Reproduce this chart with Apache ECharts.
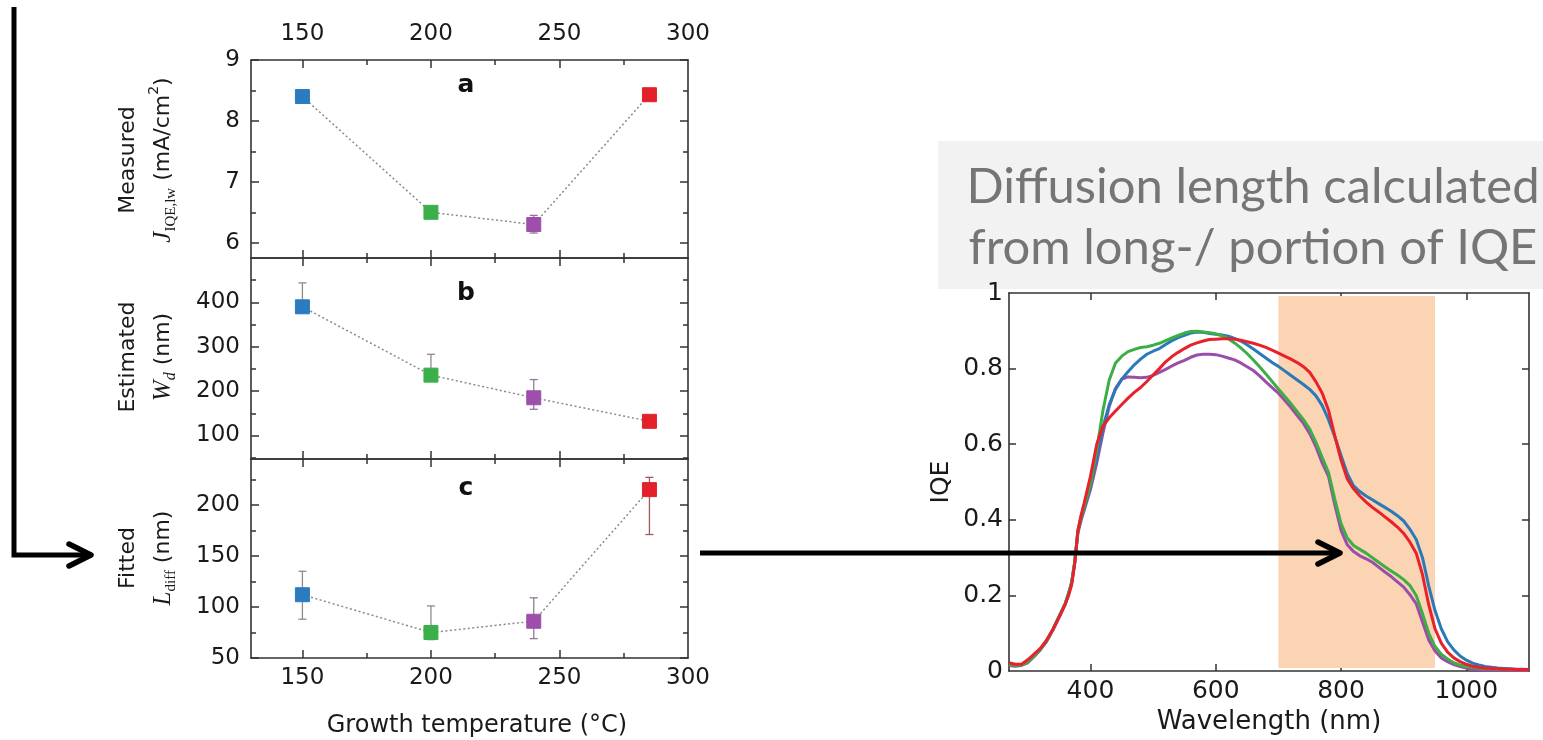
<!DOCTYPE html>
<html><head><meta charset="utf-8">
<script src="https://cdn.jsdelivr.net/npm/echarts@6/dist/echarts.min.js"></script>
<style>html,body{margin:0;padding:0;background:#fff}#c{width:1543px;height:740px}</style>
</head><body><div id="c"></div>
<script>
// ---------------- data ----------------
const temps = [150, 200, 240, 285];
const tempLabels = [150, 200, 250, 300];
const tempMajorTicks = [150, 200, 250];
const tempMinorTicks = [175, 225, 275];

const jIqe     = [8.40, 6.50, 6.30, 8.43];
const jIqeLow  = [8.40, 6.50, 6.16, 8.43];
const jIqeHigh = [8.40, 6.50, 6.45, 8.43];
const jLabels = [6, 7, 8, 9];
const jMinor  = [6.5, 7.5, 8.5];

const wd     = [390, 236, 185, 132];
const wdLow  = [390, 236, 159, 132];
const wdHigh = [444, 283, 226, 132];
const wdLabels = [100, 200, 300, 400];
const wdMinor  = [50, 150, 250, 350, 450];

const ldiff     = [112, 75, 86, 215];
const ldiffLow  = [88, 68, 69, 171];
const ldiffHigh = [135, 101, 109, 227];
const ldLabels = [50, 100, 150, 200];
const ldMinor  = [75, 125, 175, 225];

const wavelength = [270,280,290,300,310,320,330,340,350,360,365,370,375,380,385,390,
  400,410,420,430,440,450,460,470,480,490,500,510,520,530,540,550,560,570,580,590,
  600,610,620,630,640,650,660,670,680,690,700,710,720,730,740,750,760,770,780,790,
  800,810,820,830,840,850,860,870,880,890,900,910,920,930,940,950,960,970,980,990,
  1000,1010,1020,1030,1040,1050,1060,1070,1080,1090,1100];
const iqeBlue = [.020,.016,.017,.025,.040,.058,.080,.110,.145,.180,.205,.235,.290,.370,.405,.430,
  .490,.565,.645,.705,.745,.772,.792,.810,.825,.838,.846,.853,.864,.874,.882,.888,.894,.897,.896,.893,
  .891,.889,.886,.880,.873,.863,.852,.840,.828,.816,.806,.794,.782,.770,.758,.745,.728,.702,.665,.620,
  .570,.522,.490,.475,.463,.453,.443,.433,.423,.411,.397,.375,.348,.300,.225,.160,.112,.078,.056,.040,
  .029,.021,.016,.012,.010,.008,.007,.006,.005,.005,.004];
const iqeGreen = [.018,.015,.016,.024,.040,.058,.080,.110,.145,.180,.205,.235,.290,.372,.408,.435,
  .495,.585,.690,.770,.815,.833,.845,.851,.856,.858,.862,.867,.874,.881,.888,.894,.898,.899,.897,.895,
  .892,.887,.879,.868,.855,.840,.823,.805,.786,.766,.746,.727,.707,.686,.665,.640,.605,.565,.525,.455,
  .390,.352,.332,.322,.312,.300,.288,.276,.265,.254,.242,.226,.200,.152,.100,.065,.045,.032,.022,.016,
  .012,.010,.008,.007,.006,.005,.005,.004,.004,.004,.004];
const iqePurple = [.015,.013,.015,.022,.038,.056,.078,.108,.142,.178,.203,.232,.288,.365,.398,.425,
  .480,.550,.630,.700,.748,.772,.778,.777,.776,.777,.782,.790,.798,.807,.815,.822,.830,.836,.838,.838,
  .837,.833,.828,.823,.815,.805,.795,.781,.765,.750,.735,.716,.697,.676,.655,.628,.593,.550,.515,.440,
  .372,.334,.316,.305,.297,.288,.275,.262,.250,.236,.222,.202,.178,.130,.082,.053,.035,.025,.017,.012,
  .008,.005,.004,.003,.003,.002,.002,.002,.002,.002,.002];
const iqeRed = [.022,.018,.018,.030,.045,.060,.082,.110,.143,.178,.200,.228,.285,.372,.412,.445,
  .515,.600,.648,.670,.688,.705,.722,.737,.750,.766,.783,.800,.818,.832,.843,.853,.862,.868,.873,.877,
  .878,.879,.879,.878,.875,.871,.867,.862,.856,.849,.841,.833,.825,.816,.805,.790,.765,.735,.690,.622,
  .558,.508,.482,.463,.447,.433,.421,.408,.395,.381,.364,.341,.312,.255,.175,.112,.074,.050,.035,.025,
  .018,.013,.010,.008,.007,.006,.005,.005,.004,.004,.004];
const wlLabels = [400, 600, 800, 1000];
const iqeTicks = [0.2, 0.4, 0.6, 0.8];
const iqeLabels = [0, 0.2, 0.4, 0.6, 0.8, 1];
const shadeRange = [700, 950];

// ---------------- styles ----------------
const pointColors = ['#2b7bbf', '#3bb04a', '#9d4fab', '#e3212b'];
const errColors = ['#8c8c8c', '#8c8c8c', '#94789a', '#a05a5e'];
const FONT = 'DejaVu Sans';
const frameColor = '#333';

const chart = echarts.init(document.getElementById('c'), null, {renderer: 'canvas'});

const leftGrids = [
  {left: 251, top: 60, width: 437, height: 198},
  {left: 251, top: 258, width: 437, height: 201},
  {left: 251, top: 459, width: 437, height: 199}
];
const rightGrid = {left: 1009, top: 293, width: 520, height: 379};

function mkAxis(base, opts) {
  return Object.assign({
    type: 'value', splitLine: {show: false},
    axisLine: {show: opts.line, onZero: false, lineStyle: {color: frameColor, width: 1.6}},
    axisTick: {show: true, inside: true, length: opts.len, customValues: opts.ticks,
               lineStyle: {color: frameColor, width: 1.5}},
    axisLabel: opts.labels ? {show: true, customValues: opts.labels, margin: opts.margin || 9,
               fontSize: opts.fs || 23, color: '#1a1a1a', fontFamily: FONT,
               formatter: opts.fmt || (v => String(v))} : {show: false}
  }, base);
}

const xAxes = [], yAxes = [];
const yCfg = [
  {min: 5.75, max: 9, labels: jLabels, major: jLabels, minor: jMinor},
  {min: 47, max: 500, labels: wdLabels, major: wdLabels, minor: wdMinor},
  {min: 50, max: 245, labels: ldLabels, major: ldLabels, minor: ldMinor}
];
for (let g = 0; g < 3; g++) {
  const xb = {gridIndex: g, min: 130, max: 300};
  xAxes.push(mkAxis(Object.assign({position: 'bottom'}, xb), {line: true, len: 8, ticks: tempMajorTicks, labels: g === 2 ? tempLabels : null, margin: 9}));
  xAxes.push(mkAxis(Object.assign({position: 'bottom'}, xb), {line: false, len: 5, ticks: tempMinorTicks}));
  xAxes.push(mkAxis(Object.assign({position: 'top'}, xb), {line: true, len: 8, ticks: tempMajorTicks, labels: g === 0 ? tempLabels : null, margin: 14}));
  xAxes.push(mkAxis(Object.assign({position: 'top'}, xb), {line: false, len: 5, ticks: tempMinorTicks}));
  const c = yCfg[g];
  const yb = {gridIndex: g, min: c.min, max: c.max};
  yAxes.push(mkAxis(Object.assign({position: 'left'}, yb), {line: true, len: 8, ticks: c.major, labels: c.labels, margin: 11}));
  yAxes.push(mkAxis(Object.assign({position: 'left'}, yb), {line: false, len: 5, ticks: c.minor}));
  yAxes.push(mkAxis(Object.assign({position: 'right'}, yb), {line: true, len: 8, ticks: c.major}));
  yAxes.push(mkAxis(Object.assign({position: 'right'}, yb), {line: false, len: 5, ticks: c.minor}));
}
// right chart axes (index 12, 13)
xAxes.push(mkAxis({gridIndex: 3, position: 'bottom', min: 270, max: 1100,
  name: 'Wavelength (nm)', nameLocation: 'middle', nameGap: 33,
  nameTextStyle: {fontSize: 26, fontFamily: FONT, color: '#1a1a1a'}},
  {line: true, len: 7, ticks: wlLabels, labels: wlLabels, margin: 8, fs: 25}));
xAxes.push(mkAxis({gridIndex: 3, position: 'top', min: 270, max: 1100}, {line: true, len: 7, ticks: wlLabels}));
yAxes.push(mkAxis({gridIndex: 3, position: 'left', min: 0, max: 1,
  name: 'IQE', nameLocation: 'middle', nameGap: 55, nameRotate: 90,
  nameTextStyle: {fontSize: 25, fontFamily: FONT, color: '#1a1a1a'}},
  {line: true, len: 7, ticks: iqeTicks, labels: iqeLabels, margin: 6, fs: 25,
   fmt: v => (v === 0 || v === 1) ? String(v) : v.toFixed(1)}));
yAxes.push(mkAxis({gridIndex: 3, position: 'right', min: 0, max: 1}, {line: true, len: 7, ticks: iqeTicks}));

// ---------------- series ----------------
const series = [];
const panelData = [
  [jIqe, jIqeLow, jIqeHigh],
  [wd, wdLow, wdHigh],
  [ldiff, ldiffLow, ldiffHigh]
];
panelData.forEach((p, g) => {
  const [vals, lo, hi] = p;
  series.push({
    type: 'custom', xAxisIndex: 4 * g, yAxisIndex: 4 * g, z: 2, silent: true,
    encode: {x: 0, y: [1, 2]},
    data: temps.map((t, i) => [t, lo[i], hi[i], i]),
    renderItem: (params, api) => {
      const x = api.value(0), l = api.value(1), h = api.value(2), idx = api.value(3);
      if (l === h) return null;
      const pl = api.coord([x, l]), ph = api.coord([x, h]);
      const st = {stroke: errColors[idx], lineWidth: 1.3};
      return {type: 'group', children: [
        {type: 'line', shape: {x1: pl[0], y1: pl[1], x2: ph[0], y2: ph[1]}, style: st},
        {type: 'line', shape: {x1: pl[0] - 4, y1: pl[1], x2: pl[0] + 4, y2: pl[1]}, style: st},
        {type: 'line', shape: {x1: ph[0] - 4, y1: ph[1], x2: ph[0] + 4, y2: ph[1]}, style: st}
      ]};
    }
  });
  series.push({
    type: 'line', xAxisIndex: 4 * g, yAxisIndex: 4 * g, z: 3, silent: true,
    symbol: 'rect', symbolSize: 14,
    lineStyle: {type: [2, 2.5], color: '#8a8a8a', width: 1.5},
    data: temps.map((t, i) => ({value: [t, vals[i]], itemStyle: {color: pointColors[i], borderColor: pointColors[i], opacity: 1}}))
  });
});
const iqeSeries = [
  {d: iqePurple, c: '#9b4ea9'},
  {d: iqeBlue, c: '#2a79b8'},
  {d: iqeGreen, c: '#3dae45'},
  {d: iqeRed, c: '#e8212a'}
];
iqeSeries.forEach((s, k) => {
  const o = {
    type: 'line', xAxisIndex: 12, yAxisIndex: 12, showSymbol: false, silent: true, z: 3,
    lineStyle: {color: s.c, width: 3}, itemStyle: {color: s.c},
    data: wavelength.map((w, i) => [w, s.d[i]])
  };
  if (k === 0) {
    o.markArea = {silent: true, itemStyle: {color: '#fad4b3'},
      data: [[{xAxis: shadeRange[0], yAxis: 0.008}, {xAxis: shadeRange[1], yAxis: 0.992}]]};
  }
  series.push(o);
});

// ---------------- annotations ----------------
const richSecond = {
  t: {fontSize: 22, fontFamily: FONT, color: '#1a1a1a', lineHeight: 32, verticalAlign: 'middle'},
  i: {fontSize: 25, fontFamily: 'Liberation Serif', fontStyle: 'italic', color: '#1a1a1a', lineHeight: 32, verticalAlign: 'middle'},
  s: {fontSize: 15, fontFamily: 'Liberation Serif', color: '#1a1a1a', lineHeight: 15, verticalAlign: 'bottom'},
  si: {fontSize: 16, fontFamily: 'Liberation Serif', fontStyle: 'italic', color: '#1a1a1a', lineHeight: 15, verticalAlign: 'bottom'},
  p: {fontSize: 14, fontFamily: FONT, color: '#1a1a1a', lineHeight: 14, verticalAlign: 'top'}
};
function vtext(x, y, text, rich) {
  const st = {text: text, fill: '#1a1a1a', align: 'center', verticalAlign: 'middle'};
  if (rich) st.rich = richSecond; else st.font = '22px "DejaVu Sans"';
  return {type: 'text', x: x, y: y, rotation: Math.PI / 2, style: st, z: 10};
}
const graphic = [
  // title box
  {type: 'rect', shape: {x: 938, y: 141, width: 605, height: 148}, style: {fill: '#f2f2f2'}, z: 0},
  {type: 'text', x: 1253, y: 187, style: {text: 'Diffusion length calculated', font: '49px Lato', fill: '#757575', align: 'center', verticalAlign: 'middle'}, z: 1},
  {type: 'text', x: 1253, y: 248, style: {text: 'from long-/ portion of IQE', font: '49px Lato', fill: '#757575', align: 'center', verticalAlign: 'middle'}, z: 1},
  // panel letters
  {type: 'text', x: 466, y: 85, style: {text: 'a', font: 'bold 25px "DejaVu Sans"', fill: '#111', align: 'center', verticalAlign: 'middle'}, z: 10},
  {type: 'text', x: 466, y: 293, style: {text: 'b', font: 'bold 25px "DejaVu Sans"', fill: '#111', align: 'center', verticalAlign: 'middle'}, z: 10},
  {type: 'text', x: 466, y: 488, style: {text: 'c', font: 'bold 25px "DejaVu Sans"', fill: '#111', align: 'center', verticalAlign: 'middle'}, z: 10},
  // y-axis titles (left panels)
  vtext(128, 160, 'Measured'),
  vtext(163, 160, '{i|J}{s|IQE,lw}{t| (mA/cm}{p|2}{t|)}', true),
  vtext(128, 357, 'Estimated'),
  vtext(163, 357, '{i|W}{si|d}{t| (nm)}', true),
  vtext(128, 558, 'Fitted'),
  vtext(163, 558, '{i|L}{s|diff}{t| (nm)}', true),
  // x-axis title (left)
  {type: 'text', x: 477, y: 726, style: {text: 'Growth temperature (°C)', font: '24px "DejaVu Sans"', fill: '#1a1a1a', align: 'center', verticalAlign: 'middle'}, z: 10},
  // arrows
  {type: 'polyline', shape: {points: [[14, 7], [14, 555], [90, 555]]}, style: {stroke: '#000', lineWidth: 5, fill: null, lineJoin: 'miter'}, z: 20},
  {type: 'polyline', shape: {points: [[69, 544], [91, 555], [69, 566]]}, style: {stroke: '#000', lineWidth: 5.5, fill: null, lineCap: 'round', lineJoin: 'round'}, z: 20},
  {type: 'line', shape: {x1: 700, y1: 553, x2: 1338, y2: 553}, style: {stroke: '#000', lineWidth: 5}, z: 20},
  {type: 'polyline', shape: {points: [[1318, 542], [1340, 553], [1318, 564]]}, style: {stroke: '#000', lineWidth: 5.5, fill: null, lineCap: 'round', lineJoin: 'round'}, z: 20}
];

chart.setOption({
  backgroundColor: '#fff',
  animation: false,
  grid: leftGrids.concat([rightGrid]),
  xAxis: xAxes,
  yAxis: yAxes,
  series: series,
  graphic: graphic
});
</script></body></html>
